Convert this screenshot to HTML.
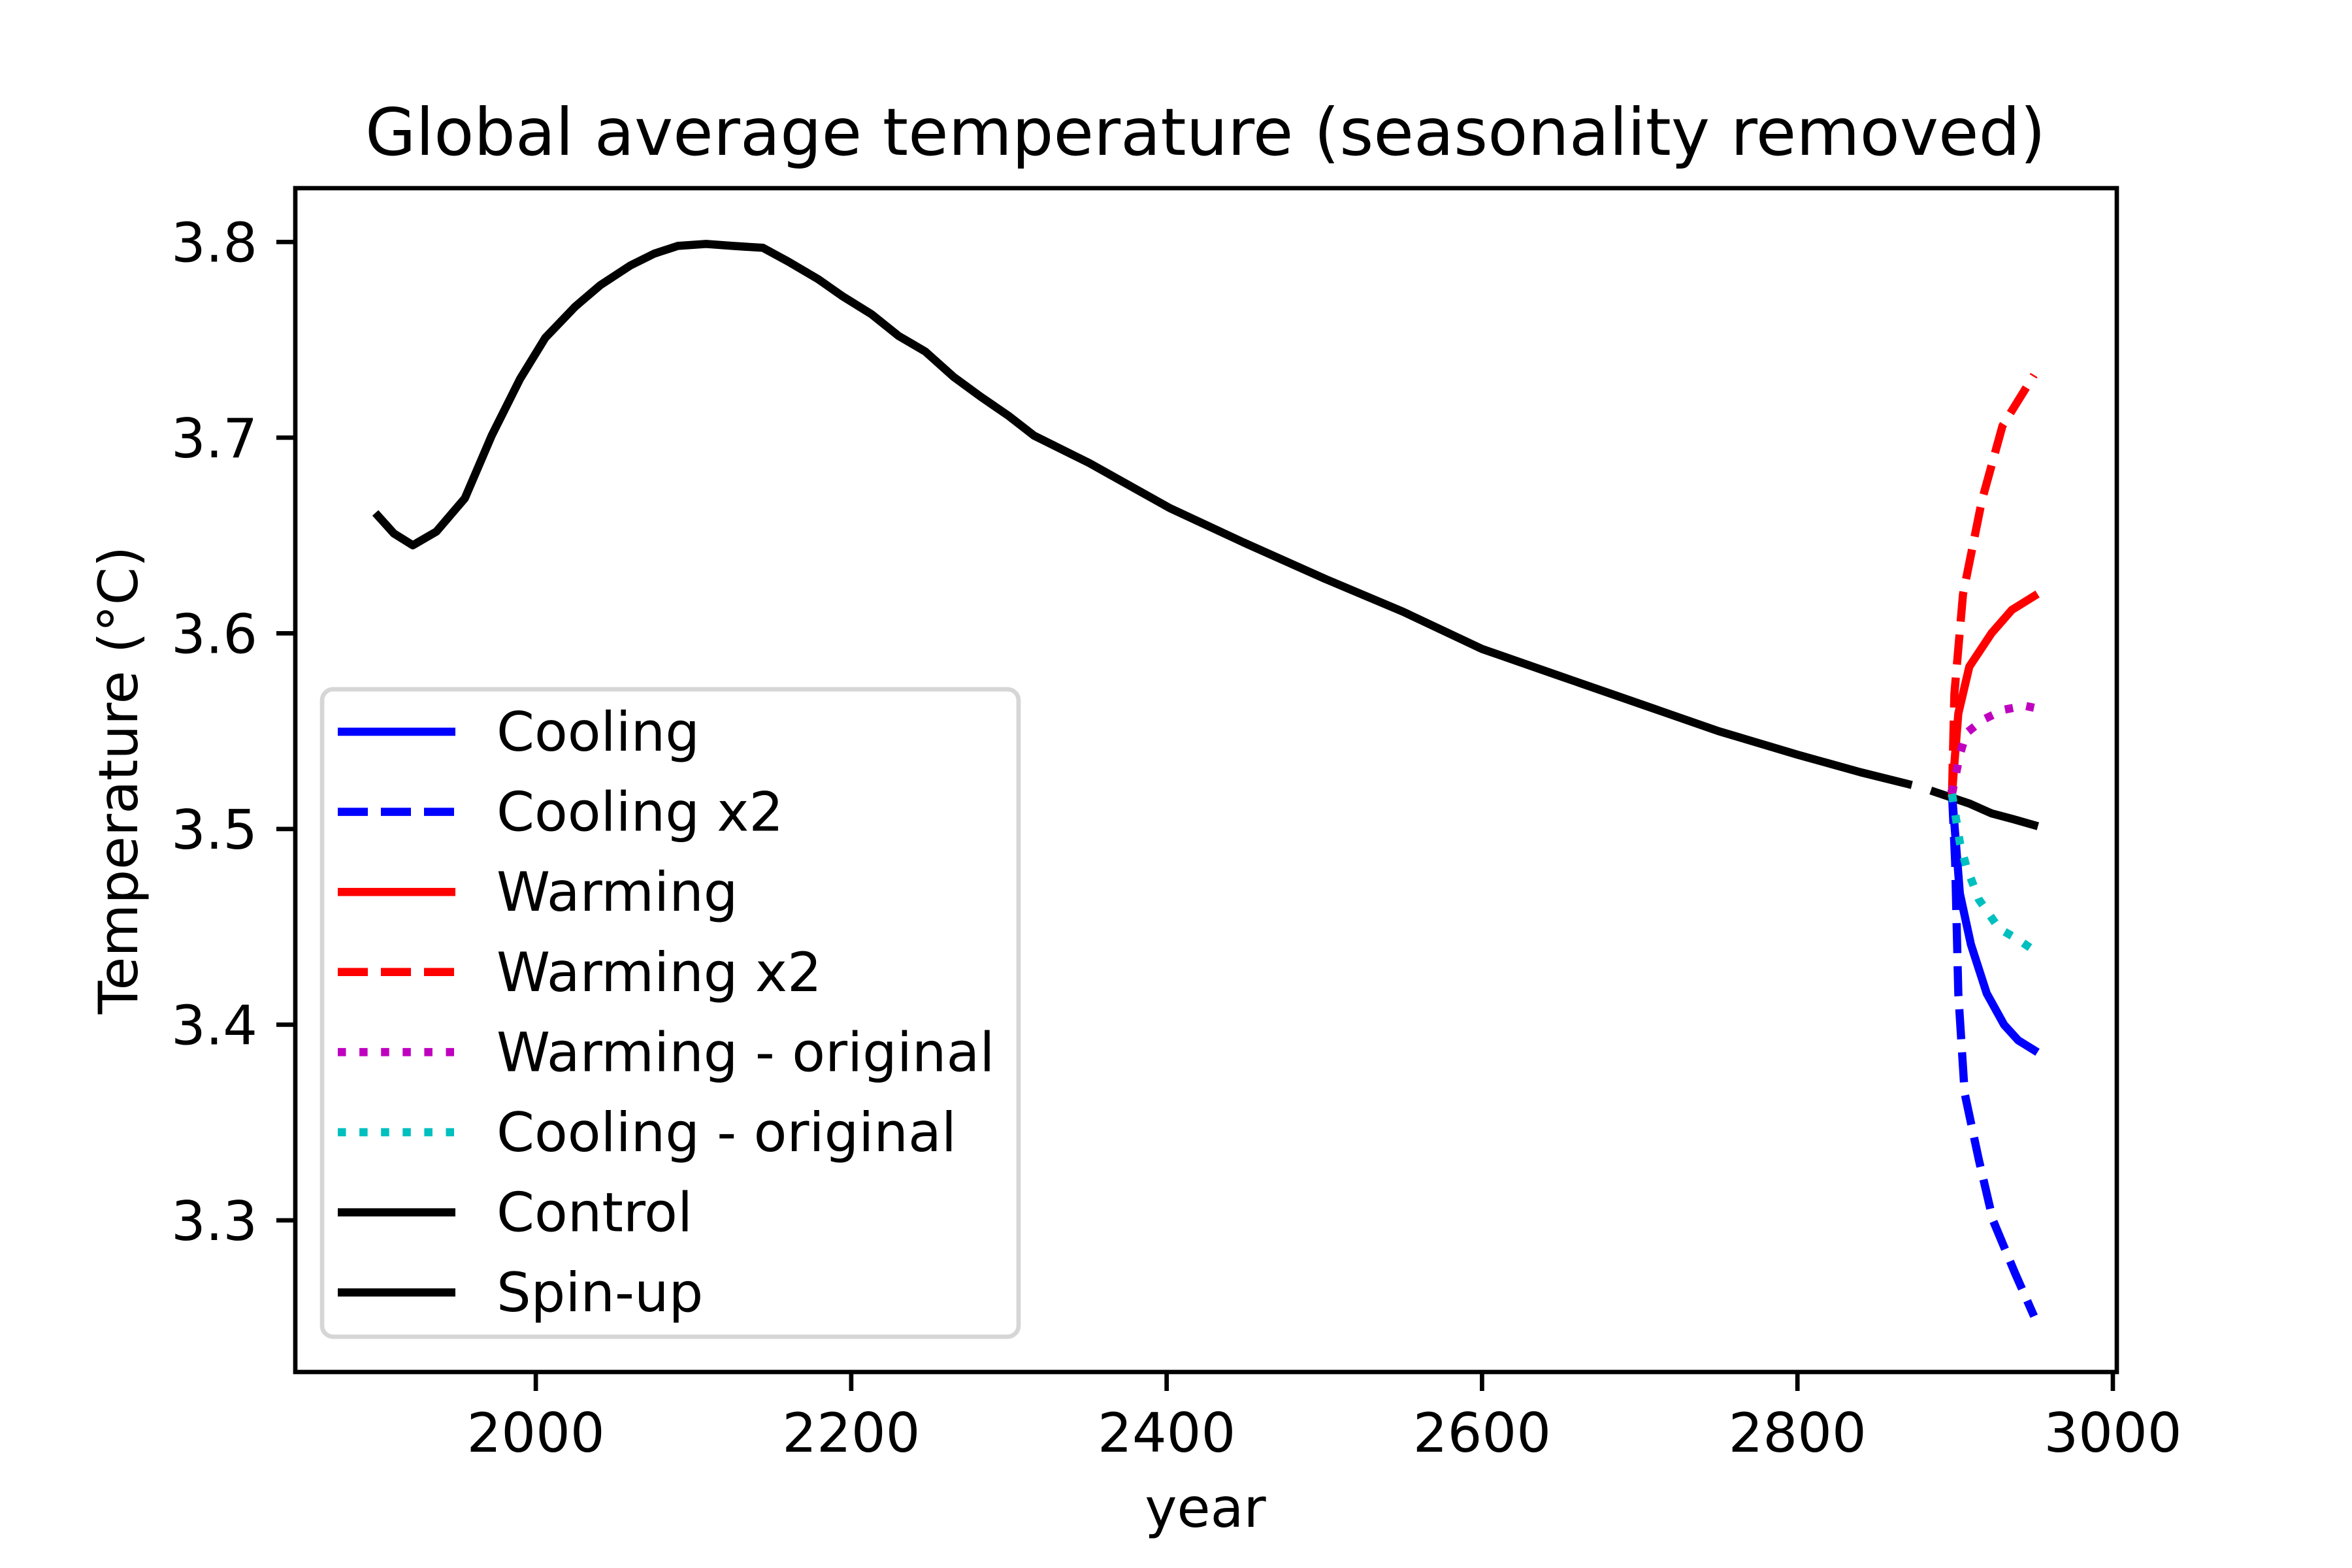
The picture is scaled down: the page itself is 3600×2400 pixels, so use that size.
<!DOCTYPE html>
<html><head><meta charset="utf-8"><style>
html,body{margin:0;padding:0;background:#fff}
svg{display:block}
text{font-family:"DejaVu Sans","Liberation Sans",sans-serif;fill:#000}
</style></head><body>
<svg id="chart" width="3600" height="2400" viewBox="0 0 3600 2400" xmlns="http://www.w3.org/2000/svg">
<rect width="3600" height="2400" fill="#fff"/>
<text x="1845" y="237" font-size="100" text-anchor="middle">Global average temperature (seasonality removed)</text>
<g id="plot"></g>
<g id="axes"></g>
<text x="1845" y="2337" font-size="83" text-anchor="middle">year</text>
<text transform="translate(210,1194) rotate(-90)" font-size="83" text-anchor="middle">Temperature (°C)</text>
<g id="legend"></g>
</svg>
<script>
const xTicks = [2000, 2200, 2400, 2600, 2800, 3000];
const yTicks = [3.3, 3.4, 3.5, 3.6, 3.7, 3.8];
const spinupYears = [1900,1910,1922,1937,1955,1972,1990,2006,2025,2041,2060,2075,2090,2108,2125,2144,2160,2179,2195,2213,2230,2247,2265,2282,2300,2316,2351,2402,2450,2500,2550,2600,2650,2700,2750,2800,2840,2870];
const spinupTemps = [3.660,3.651,3.645,3.652,3.669,3.701,3.730,3.751,3.767,3.778,3.788,3.794,3.798,3.799,3.798,3.797,3.790,3.781,3.772,3.763,3.752,3.744,3.731,3.721,3.711,3.701,3.687,3.664,3.646,3.628,3.611,3.592,3.578,3.564,3.550,3.538,3.529,3.523];
const controlYears = [2887,2909,2923,2937,2950];
const controlTemps = [3.519,3.513,3.508,3.505,3.502];
const warmingYears = [2898,2902,2909,2923,2936,2950];
const warmingTemps = [3.518,3.559,3.583,3.600,3.612,3.619];
const warming2Years = [2898,2899.5,2905,2917,2930,2950];
const warming2Temps = [3.518,3.569,3.620,3.668,3.706,3.732];
const warmOrigYears = [2898,2903,2907,2918,2931,2944,2950];
const warmOrigTemps = [3.518,3.538,3.549,3.556,3.561,3.563,3.562];
const coolOrigYears = [2898,2903,2907,2915,2928,2939,2950];
const coolOrigTemps = [3.518,3.493,3.481,3.464,3.449,3.444,3.438];
const coolingYears = [2898,2903,2910,2920,2931,2940,2950];
const coolingTemps = [3.518,3.467,3.441,3.416,3.400,3.392,3.387];
const cooling2Years = [2898,2900,2902,2906,2915,2924,2938,2950];
const cooling2Temps = [3.518,3.483,3.416,3.365,3.331,3.300,3.273,3.251];
const legendLabels = ["Cooling","Cooling x2","Warming","Warming x2","Warming - original","Cooling - original","Control","Spin-up"];

const NS = "http://www.w3.org/2000/svg";
const L = 452, R = 3240, T = 288, B = 2100;
const X0 = 1847.5, X1 = 3002.5, Y0 = 3.2225, Y1 = 3.8275;
function xs(v){ return L + (v - X0) / (X1 - X0) * (R - L); }
function ys(v){ return B - (v - Y0) / (Y1 - Y0) * (B - T); }
function mk(tag, attrs, parent){ const e = document.createElementNS(NS, tag); for (const k in attrs) e.setAttribute(k, attrs[k]); parent.appendChild(e); return e; }

const plot = document.getElementById('plot');
const axes = document.getElementById('axes');
const legend = document.getElementById('legend');

const styles = [
  {name:'cooling-line', xs:coolingYears, ys:coolingTemps, c:'#0000ff', d:''},
  {name:'cooling-x2-line', xs:cooling2Years, ys:cooling2Temps, c:'#0000ff', d:'46 20'},
  {name:'warming-line', xs:warmingYears, ys:warmingTemps, c:'#ff0000', d:''},
  {name:'warming-x2-line', xs:warming2Years, ys:warming2Temps, c:'#ff0000', d:'46 20'},
  {name:'warming-original-line', xs:warmOrigYears, ys:warmOrigTemps, c:'#bf00bf', d:'12.5 20.6'},
  {name:'cooling-original-line', xs:coolOrigYears, ys:coolOrigTemps, c:'#00bfbf', d:'12.5 20.6'},
  {name:'control-line', xs:controlYears, ys:controlTemps, c:'#000000', d:''},
  {name:'spinup-line', xs:spinupYears, ys:spinupTemps, c:'#000000', d:''}
];
const drawOrder = [7,6,0,1,2,3,4,5];
drawOrder.forEach(i => {
  const s = styles[i];
  const pts = s.xs.map((x, j) => xs(x).toFixed(1) + ',' + ys(s.ys[j]).toFixed(1)).join(' ');
  const p = mk('polyline', {points: pts, fill:'none', stroke:s.c, 'stroke-width':12.5, 'stroke-linejoin':'round', 'stroke-linecap': s.d ? 'butt' : 'square'}, plot);
  if (s.d) p.setAttribute('stroke-dasharray', s.d);
  
  
});

xTicks.forEach(t => {
  const x = xs(t);
  const ln = mk('line', {x1:x, x2:x, y1:B, y2:B+29, stroke:'#000', 'stroke-width':6.7}, axes);
  
  
  const tx = mk('text', {x:x, y:2222, 'font-size':83, 'text-anchor':'middle'}, axes);
  tx.textContent = String(t);
  
  
});
yTicks.forEach(t => {
  const y = ys(t);
  const ln = mk('line', {x1:L-29, x2:L, y1:y, y2:y, stroke:'#000', 'stroke-width':6.7}, axes);
  
  
  const tx = mk('text', {x:L-58, y:y+30, 'font-size':83, 'text-anchor':'end'}, axes);
  tx.textContent = t.toFixed(1);
  
  
});
const frame = mk('rect', {x:L, y:T, width:R-L, height:B-T, fill:'none', stroke:'#000', 'stroke-width':6.7}, axes);



const box = mk('rect', {x:493, y:1055, width:1066, height:991, rx:17, fill:'#fff', 'fill-opacity':0.8, stroke:'#d6d6d6', 'stroke-width':6.7}, legend);


legendLabels.forEach((lab, i) => {
  const s = styles[i];
  const y = 1120 + i * 122.6;
  const ln = mk('line', {x1:517, x2:697, y1:y, y2:y, stroke:s.c, 'stroke-width':12.5}, legend);
  if (s.d) ln.setAttribute('stroke-dasharray', s.d);
  
  
  const tx = mk('text', {x:760, y:y+29, 'font-size':83}, legend);
  tx.textContent = lab;
  
  
});
</script>
</body></html>
